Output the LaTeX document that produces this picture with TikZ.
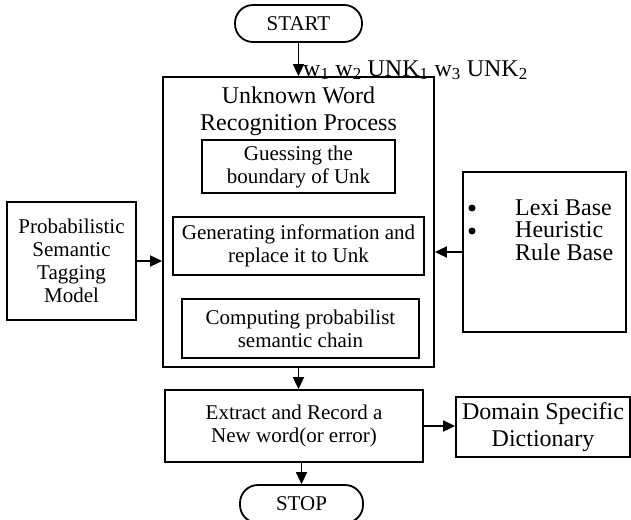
\documentclass[tikz,border=0pt]{standalone}
\usepackage{fontspec}
\setmainfont{Liberation Serif}
\usetikzlibrary{arrows.meta}
\begin{document}
\begin{tikzpicture}[x=1pt,y=-1pt,
  box/.style={draw,line width=1.8pt,inner sep=0pt,align=center},
  term/.style={box,rounded corners=18pt},
  txt/.style={inner sep=0pt,align=center},
  dot/.style={circle,fill,inner sep=0pt,minimum size=7pt},
  arr/.style={line width=1.8pt,-{Triangle[length=12pt,width=11pt]}},
  f21/.style={font=\fontsize{21}{23}\selectfont},
  f24/.style={font=\fontsize{24}{27}\selectfont}]
\useasboundingbox (0,0) rectangle (631,519);
\clip (0,0) rectangle (631,519);
\node[term,f21,minimum width=127pt,minimum height=37pt] (start) at (298.5,23.5) {START};
\node[box,minimum width=271pt,minimum height=290pt] (main) at (298.5,222) {};
\node[txt,f24] (title) at (298.5,111) {Unknown Word\\Recognition Process};
\node[box,f21,minimum width=193pt,minimum height=53pt] (s1) at (298.5,166.5) {Guessing the\\boundary of Unk};
\node[box,f21,minimum width=251pt,minimum height=58pt] (s2) at (298.5,246) {Generating information and\\replace it to Unk};
\node[box,f21,minimum width=237pt,minimum height=59pt] (s3) at (300.5,328.5) {Computing probabilist\\semantic chain};
\node[box,f21,minimum width=129pt,minimum height=118pt] (left) at (71.5,261) {Probabilistic\\Semantic\\Tagging\\Model};
\node[box,minimum width=163pt,minimum height=160pt] (right) at (544.5,252) {};
\node[dot] (b1) at (472,208) {};
\node[dot] (b2) at (472,231) {};
\node[txt,f24,anchor=base west] (r1) at (515,215) {Lexi Base};
\node[txt,f24,anchor=base west] (r2) at (515,237.5) {Heuristic};
\node[txt,f24,anchor=base west] (r3) at (515,260) {Rule Base};
\node[box,f21,minimum width=258pt,minimum height=72pt] (bottom) at (294,426) {Extract and Record a\\New word(or error)};
\node[box,f24,minimum width=174pt,minimum height=60pt] (dom) at (543,427) {Domain Specific\\Dictionary};
\node[term,f21,minimum width=123pt,minimum height=38pt] (stop) at (301.5,504) {STOP};
\node[txt,f24,anchor=base west] (wl) at (303,76) {w\textsubscript{1} w\textsubscript{2} UNK\textsubscript{1} w\textsubscript{3} UNK\textsubscript{2}};
\draw[arr] (start.south) -- (main.north);
\draw[arr] (left.east) -- (left.east -| main.west);
\draw[arr] (right.west) -- (right.west -| main.east);
\draw[arr] (main.south) -- (main.south |- bottom.north);
\draw[arr] (bottom.east) -- (bottom.east -| dom.west);
\draw[arr] (bottom.south -| stop.north) -- (stop.north);
\end{tikzpicture}
\end{document}
